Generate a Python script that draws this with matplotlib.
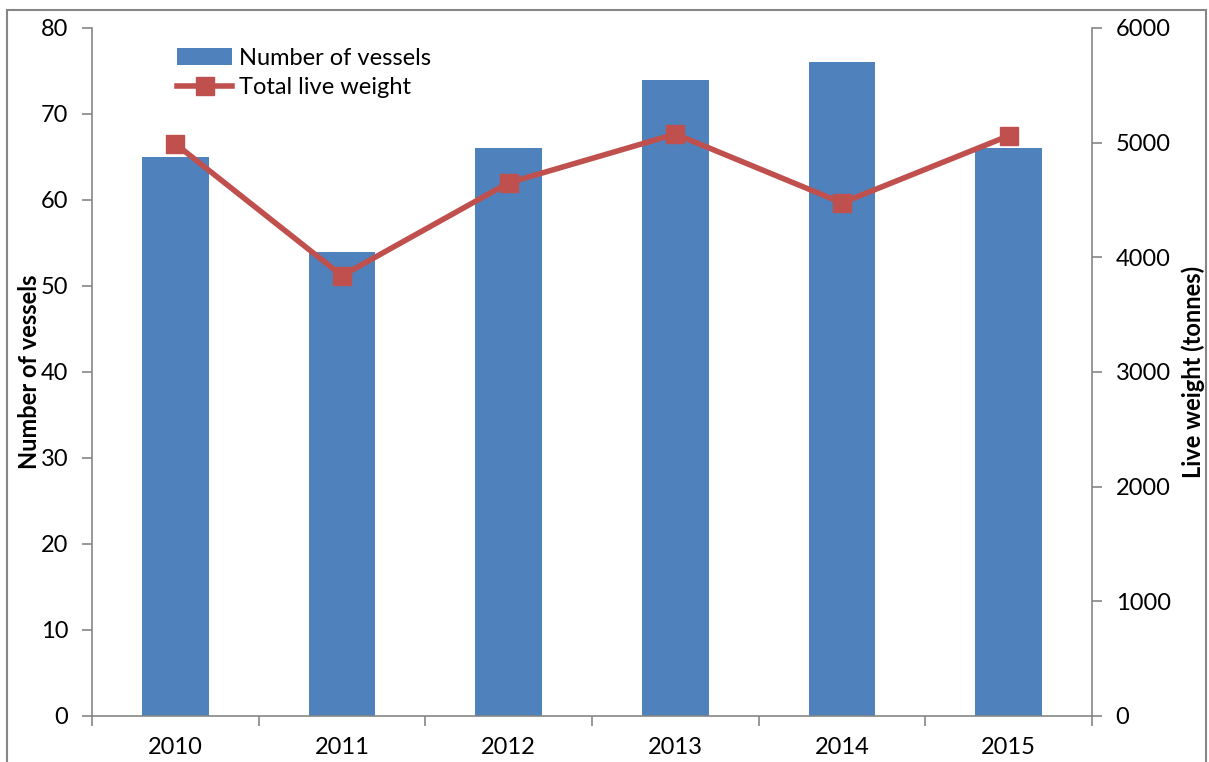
import matplotlib.pyplot as plt
import matplotlib.patches as mpatches
import numpy as np

years = ["2010", "2011", "2012", "2013", "2014", "2015"]
vessels = [65, 54, 66, 74, 76, 66]
live_weight = [4990, 3840, 4650, 5075, 4475, 5060]

plt.rcParams['font.family'] = ['Lato', 'DejaVu Sans']

bar_col = '#4F81BD'
line_col = '#C0504D'
grey = '#868686'

fig = plt.figure(figsize=(12.09, 7.62), dpi=100)
ax = fig.add_axes([92 / 1209, 1 - 716 / 762, 1000 / 1209, 688 / 762])

# figure frame
fig.patches.append(mpatches.Rectangle((7 / 1209, -0.01), 1199 / 1209, 1 - 10 / 762 + 0.01,
                                      transform=fig.transFigure, fill=False,
                                      edgecolor=grey, linewidth=1.5))

x = np.arange(len(years))
ax.bar(x, vessels, width=0.4, color=bar_col, label='Number of vessels', zorder=2)
ax.set_xlim(-0.5, len(years) - 0.5)
ax.set_ylim(0, 80)
ax.set_yticks(range(0, 81, 10))
ax.set_xticks(x)
ax.set_xticklabels(years)
ax.set_xticks(np.arange(-0.5, len(years)), minor=True)
ax.tick_params(axis='x', which='major', length=0, pad=15, labelsize=17)
ax.tick_params(axis='x', which='minor', length=7, color=grey, width=1.2)
ax.tick_params(axis='y', length=7, color=grey, width=1.2, labelsize=17, pad=10)
for s in ['top', 'right']:
    ax.spines[s].set_visible(False)
for s in ['left', 'bottom']:
    ax.spines[s].set_color(grey)
    ax.spines[s].set_linewidth(1.2)
ax.set_ylabel('Number of vessels', fontsize=17, fontweight='bold', va='center')
ax.yaxis.set_label_coords(-0.062, 0.5)

ax2 = ax.twinx()
ax2.plot(x, live_weight, color=line_col, linewidth=4, marker='s', markersize=13,
         label='Total live weight', zorder=3)
ax2.set_ylim(0, 6000)
ax2.set_yticks(range(0, 6001, 1000))
ax2.tick_params(axis='y', length=7, color=grey, width=1.2, labelsize=17, pad=10)
for s in ['top', 'left', 'bottom']:
    ax2.spines[s].set_visible(False)
ax2.spines['right'].set_color(grey)
ax2.spines['right'].set_linewidth(1.2)
ax2.set_ylabel('Live weight (tonnes)', fontsize=17, fontweight='bold', va='center')
ax2.yaxis.set_label_coords(1.101, 0.5)

h1, l1 = ax.get_legend_handles_labels()
h2, l2 = ax2.get_legend_handles_labels()
ax2.legend(h1 + h2, l1 + l2, loc='upper left', bbox_to_anchor=(0.076, 0.985),
           frameon=False, fontsize=17, handlelength=2.3, handletextpad=0.3,
           labelspacing=0.35, borderaxespad=0)

fig.savefig('out.png', dpi=100)
